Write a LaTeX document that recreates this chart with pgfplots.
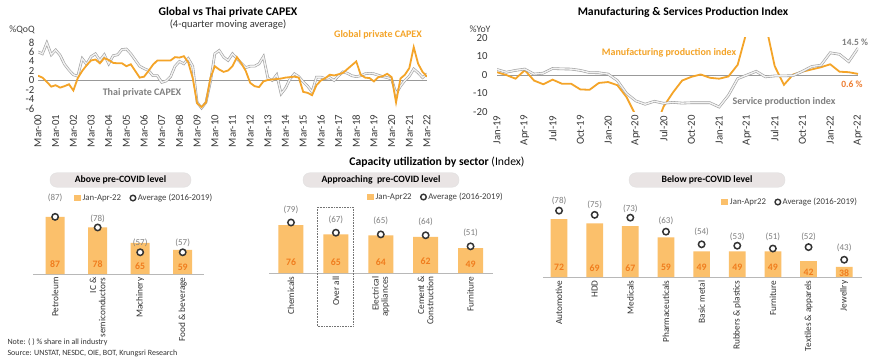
\documentclass[border=0pt]{standalone}
\usepackage{fontspec}
\setmainfont{Carlito}
\usepackage{pgfplots}
\pgfplotsset{compat=1.18}
\usepackage{pgfplotstable}

\definecolor{lineorange}{RGB}{244,164,40}
\definecolor{barfill}{RGB}{251,192,107}
\definecolor{valorange}{RGB}{240,125,30}
\definecolor{darkorange}{RGB}{237,125,49}
\definecolor{txtgray}{RGB}{127,127,127}
\definecolor{headfill}{RGB}{233,228,228}
\definecolor{linegray}{RGB}{150,150,150}
\newcommand{\fsz}[1]{\fontsize{#1}{#1}\selectfont}

\pgfplotsset{/pgf/number format/assume math mode=true}

% Global vs Thai private CAPEX, quarterly Mar-00 .. Mar-22
\pgfplotstableread{
q g t
0 1.0 6.0
1 0.6 5.6
2 -0.3 7.9
3 -1.3 5.4
4 -1.0 6.4
5 -1.5 5.3
6 -1.2 3.4
7 -0.8 2.2
8 -2.1 1.2
9 0.5 0.9
10 2.0 4.6
11 3.2 3.4
12 4.2 5.0
13 4.4 5.6
14 3.6 4.2
15 4.7 5.4
16 4.3 3.5
17 3.7 5.2
18 3.6 5.4
19 3.6 6.5
20 3.0 6.6
21 3.4 5.6
22 2.0 4.3
23 0.6 3.0
24 0.8 2.5
25 2.0 2.1
26 3.3 1.0
27 4.2 1.0
28 4.2 -0.4
29 4.2 -0.1
30 4.2 0.8
31 4.9 3.0
32 4.8 4.0
33 5.1 3.5
34 3.8 4.6
35 0.5 3.0
36 -4.8 -4.6
37 -5.6 -5.8
38 -4.6 -4.6
39 0.5 -0.3
40 3.0 5.6
41 2.3 6.3
42 1.8 4.9
43 2.1 4.2
44 3.0 5.6
45 4.9 4.6
46 3.6 3.6
47 2.0 2.7
48 -0.5 3.0
49 -1.2 3.0
50 -1.4 3.5
51 -0.2 5.0
52 0.1 0.5
53 0.2 0.0
54 0.3 1.2
55 0.4 -2.8
56 0.6 -1.6
57 0.7 0.3
58 0.8 1.4
59 0.6 0.8
60 -2.4 -0.3
61 -2.6 -1.2
62 -3.1 -2.4
63 -1.0 0.7
64 0.0 0.7
65 0.5 0.4
66 1.2 0.6
67 1.05 0.0
68 1.3 1.0
69 1.6 1.8
70 2.4 1.5
71 3.2 1.0
72 4.0 0.8
73 1.2 1.0
74 0.6 1.4
75 0.5 1.5
76 -0.2 1.4
77 0.7 1.1
78 0.9 0.8
79 1.4 0.6
80 0.7 0.3
81 -4.6 -2.8
82 0.4 -1.2
83 1.2 0.0
84 2.6 0.9
85 7.0 2.4
86 3.5 1.6
87 1.8 0.6
88 0.8 1.4
}\capex

% Manufacturing & Services production index, monthly Jan-19 .. Apr-22
\pgfplotstableread{
m manu serv
0 1.5 3.0
1 0.0 1.5
2 -2.0 2.5
3 2.6 3.2
4 -3.0 0.5
5 -5.0 1.0
6 -2.5 3.5
7 -4.7 3.3
8 -4.7 3.2
9 -7.8 2.5
10 -8.0 1.3
11 -4.3 1.2
12 -3.8 0.5
13 -5.5 -3.0
14 -12.0 -10.0
15 -22.0 -14.0
16 -35.0 -15.8
17 -30.0 -14.2
18 -17.0 -15.3
19 -9.5 -14.8
20 -3.0 -15.2
21 -1.0 -15.0
22 0.3 -15.0
23 -1.5 -15.0
24 -2.0 -17.3
25 -0.8 -11.0
26 5.5 -2.0
27 24.0 0.0
28 40.0 2.0
29 28.0 -1.0
30 4.8 -0.5
31 -5.3 -0.5
32 0.3 -0.3
33 1.8 2.0
34 3.0 4.6
35 4.2 5.3
36 5.8 12.0
37 1.8 11.2
38 1.5 7.2
39 0.6 14.5
}\prod

% Capacity utilisation: x, Jan-Apr22, average 2016-2019, label y, value-label y
\pgfplotstableread{
x v avg ly vy
0 87 87 103.0 47.1
1 78 78 85.2 47.3
2 65 57 64.6 45.4
3 59 57 65.1 44.5
}\pone
\pgfplotstableread{
x v avg ly vy
0 76 79 93.6 32.3
1 65 67 81.9 32.3
2 64 65 80.7 32.3
3 62 64 79.6 33.4
4 49 51 66.3 29.9
}\ptwo
\pgfplotstableread{
x v avg ly vy
0 72 78 84.9 37.3
1 69 75 82.0 37.3
2 67 73 79.4 37.3
3 59 63 70.8 37.3
4 49 54 62.8 37.3
5 49 53 59.0 37.3
6 49 51 59.0 37.3
7 42 52 59.4 33.8
8 38 43 51.6 33.8
}\pthree

\pgfplotsset{
  linechart/.style={
    scale only axis, anchor=south west,
    axis line style={draw=none}, tick style={draw=none},
    tick label style={font=\fsz{10.8}, text=black!78},
    xticklabel style={rotate=90, anchor=east},
  },
  barpanel/.style={
    scale only axis, anchor=south west, clip=false,
    axis x line=bottom, axis y line=none,
    x axis line style={draw=black!28, line width=0.8pt, -},
    major tick length=0pt, ymin=0,
    xticklabel style={rotate=90, anchor=east, align=right, font=\fsz{9.3}, text=black!80},
    legend style={draw=none, fill=none, legend columns=2, font=\fsz{8.8}, text=black!75,
      inner sep=0pt, anchor=center,
      /tikz/every even column/.append style={column sep=7pt}},
    legend cell align=left,
  },
  barplot/.style={ybar, fill=barfill, draw=none,
    legend image code/.code={\fill[barfill] (0pt,-3.3pt) rectangle (6.6pt,3.3pt);}},
  circplot/.style={only marks, mark=*, mark size=3.2pt,
    mark options={fill=white, draw=black!80, line width=1.5pt},
    legend image code/.code={\draw[mark=*, mark size=2.8pt, mark options={fill=white, draw=black!80, line width=1.4pt}] plot coordinates {(3pt,0pt)};}},
  avglab/.style={draw=none, mark=none, forget plot, point meta=explicit,
    nodes near coords={(\pgfmathprintnumber{\pgfplotspointmeta})},
    every node near coord/.append style={anchor=center, font=\fsz{9}, text=txtgray}},
  vallab/.style={draw=none, mark=none, forget plot, point meta=explicit,
    nodes near coords={\pgfmathprintnumber{\pgfplotspointmeta}},
    every node near coord/.append style={anchor=center, font=\bfseries\fsz{9.8}, text=valorange}},
  grayline/.style={draw=black!38, line width=0.6pt, double=black!5, double distance=1.4pt},
}

\begin{document}
\begin{tikzpicture}[x=1pt,y=1pt]
\useasboundingbox (0,0) rectangle (870,362);
\fill[white] (0,0) rectangle (870,362);

% ---------------- Global vs Thai private CAPEX
\begin{axis}[linechart,
  at={(38pt,250.6pt)}, width=389pt, height=71.4pt,
  xmin=0, xmax=88, ymin=-6.5, ymax=8.5,
  xtick={0,4,...,88},
  xticklabels={Mar-00,Mar-01,Mar-02,Mar-03,Mar-04,Mar-05,Mar-06,Mar-07,Mar-08,Mar-09,Mar-10,Mar-11,Mar-12,Mar-13,Mar-14,Mar-15,Mar-16,Mar-17,Mar-18,Mar-19,Mar-20,Mar-21,Mar-22},
  ytick={-6,-4,...,8},
]
\addplot[black!40, line width=0.7pt] coordinates {(0,0) (88,0)};
\addplot[grayline] table[x=q, y=t] \capex;
\addplot[lineorange, line width=1.8pt] table[x=q, y=g] \capex;
\end{axis}

% ---------------- Manufacturing & Services production index
\begin{axis}[linechart,
  at={(497pt,250pt)}, width=361pt, height=74pt,
  xmin=0, xmax=39, ymin=-20, ymax=20,
  xtick={0,3,...,39},
  xticklabels={Jan-19,Apr-19,Jul-19,Oct-19,Jan-20,Apr-20,Jul-20,Oct-20,Jan-21,Apr-21,Jul-21,Oct-21,Jan-22,Apr-22},
  ytick={-20,-10,0,10,20},
  yticklabel style={xshift=-6pt},
]
\addplot[black!40, line width=0.7pt] coordinates {(0,0) (39,0)};
\addplot[lineorange, line width=1.8pt] table[x=m, y=manu] \prod;
\addplot[grayline] table[x=m, y=serv] \prod;
\end{axis}

% ---------------- Panel 1: Above pre-COVID level
\begin{axis}[barpanel,
  at={(33pt,88pt)}, width=171pt, height=72.5pt,
  xmin=-0.52, xmax=3.5, ymax=61.4,
  y filter/.expression={y-38.6},
  xtick={0,1,2,3},
  xticklabels={Petroleum,{IC \&\\semiconductors},Machinery,Food \& beverage},
  legend style={at={(0.65,1.048)}},
]
\addplot[barplot, bar width=19pt] table[x=x, y=v] \pone;
\addlegendentry{Jan-Apr-22}
\addplot[circplot] table[x=x, y=avg] \pone;
\addlegendentry{Average (2016-2019)}
\addplot[avglab] table[x=x, y=ly, meta=avg] \pone;
\addplot[vallab] table[x=x, y=vy, meta=v] \pone;
\end{axis}

% ---------------- Panel 2: Approaching pre-COVID level
\begin{axis}[barpanel,
  at={(269pt,89pt)}, width=224pt, height=68.4pt,
  xmin=-0.49, xmax=4.5, ymax=80.3,
  y filter/.expression={y-19.7},
  xtick={0,1,2,3,4},
  xticklabels={Chemicals,Over all,{Electrical\\appliances},{Cement \&\\Construction},Furniture},
  legend style={at={(0.745,1.111)}},
]
\addplot[barplot, bar width=25pt] table[x=x, y=v] \ptwo;
\addlegendentry{Jan-Apr22}
\addplot[circplot] table[x=x, y=avg] \ptwo;
\addlegendentry{Average (2016-2019)}
\addplot[avglab] table[x=x, y=ly, meta=avg] \ptwo;
\addplot[vallab] table[x=x, y=vy, meta=v] \ptwo;
\end{axis}

% ---------------- Panel 3: Below pre-COVID level
\begin{axis}[barpanel,
  at={(543pt,85pt)}, width=319pt, height=83.2pt,
  xmin=-0.45, xmax=8.5, ymax=59.3,
  y filter/.expression={y-30.7},
  xtick={0,...,8},
  xticklabels={Automotive,HDD,Medicals,Pharmaceuticals,Basic metal,Rubbers \& plastics,Furniture,Textiles \& apparels,Jewellry},
  legend style={at={(0.775,0.901)}},
]
\addplot[barplot, bar width=16.7pt] table[x=x, y=v] \pthree;
\addlegendentry{Jan-Apr22}
\addplot[circplot] table[x=x, y=avg] \pthree;
\addlegendentry{Average (2016-2019)}
\addplot[avglab] table[x=x, y=ly, meta=avg] \pthree;
\addplot[vallab] table[x=x, y=vy, meta=v] \pthree;
\end{axis}

% ---------------- texts
\node[font=\bfseries\fsz{11.7}] at (228,350) {Global vs Thai private CAPEX};
\node[font=\fsz{10.5}, text=black!80] at (228,337) {(4-quarter moving average)};
\node[font=\fsz{9.8}, text=black!75] at (22,332) {\%QoQ};
\node[font=\bfseries\fsz{10}, text=lineorange] at (378,327) {Global private CAPEX};
\node[font=\bfseries\fsz{10}, text=txtgray] at (142,269) {Thai private CAPEX};

\node[font=\bfseries\fsz{11.7}] at (683,350) {Manufacturing \& Services Production Index};
\node[font=\fsz{9.8}, text=black!75] at (480,333) {\%YoY};
\node[font=\bfseries\fsz{10}, text=lineorange] at (669,309) {Manufacturing production index};
\node[font=\bfseries\fsz{10}, text=txtgray] at (784,260) {Service production index};
\node[font=\bfseries\fsz{9.5}, text=txtgray] at (855,320) {14.5 \%};
\node[font=\bfseries\fsz{9.5}, text=darkorange] at (852,278) {0.6 \%};

\node[font=\fsz{11.7}] at (437,200) {\textbf{Capacity utilization by sector} (Index)};
\node[fill=headfill, draw=black!12, rounded corners=7pt, minimum width=141pt, minimum height=14.5pt, inner sep=0pt, font=\bfseries\fsz{9.7}] at (120.5,182) {Above pre-COVID level};
\node[fill=headfill, draw=black!12, rounded corners=7pt, minimum width=156pt, minimum height=14.5pt, inner sep=0pt, font=\bfseries\fsz{9.7}] at (381,182) {Approaching\ \ pre-COVID level};
\node[fill=headfill, draw=black!12, rounded corners=7pt, minimum width=156pt, minimum height=14.5pt, inner sep=0pt, font=\bfseries\fsz{9.7}] at (707,182) {Below pre-COVID level};
\draw[black!55, densely dotted, line width=0.6pt] (317,36) rectangle (353,155);

\node[anchor=west, font=\fsz{8}, text=black!80] at (4,20) {Note: ( ) \% share in all industry};
\node[anchor=west, font=\fsz{8}, text=black!80] at (4,9) {Source: UNSTAT, NESDC, OIE, BOT, Krungsri Research};
\end{tikzpicture}
\end{document}
